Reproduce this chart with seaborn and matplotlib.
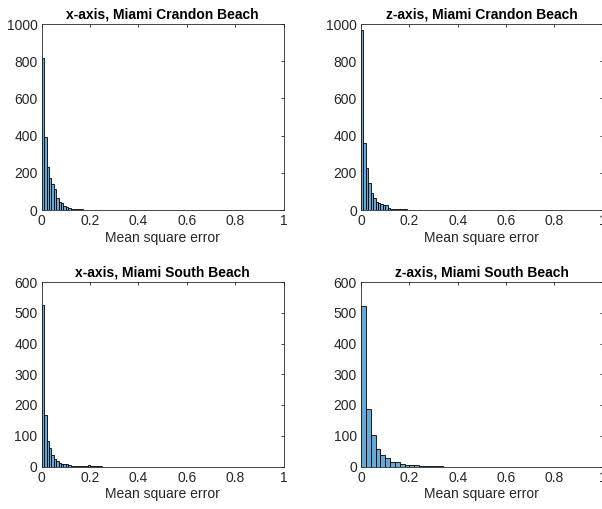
import numpy as np
import pandas as pd
import matplotlib
matplotlib.use("Agg")
import matplotlib.pyplot as plt
import seaborn as sns

# ---- data (histogram counts) ----
titles = ["x-axis, Miami Crandon Beach", "z-axis, Miami Crandon Beach",
          "x-axis, Miami South Beach", "z-axis, Miami South Beach"]
binwidths = [0.01, 0.01, 0.01, 0.02]
counts_x_crandon = [819, 395, 230, 170, 140, 112, 62, 41, 40, 22, 14, 9, 6, 5, 4, 3,
                    3, 2, 2, 2, 1, 1, 1, 1, 1, 1, 1, 1, 0, 1]
counts_z_crandon = [968, 362, 228, 145, 92, 62, 42, 40, 33, 27, 26, 12, 8, 6, 5, 4,
                    4, 3, 3, 2, 2, 2, 1, 2, 1, 1, 1, 1, 1, 1, 1, 1, 1, 1, 0, 1]
counts_x_south = [524, 168, 83, 60, 36, 26, 17, 12, 9, 7, 8, 4, 3, 3, 2, 2, 2, 2,
                  3, 5, 2, 1, 1, 1, 1]
counts_z_south = [522, 186, 101, 58, 37, 27, 14, 14, 7, 5, 4, 4, 3, 2, 2, 2, 1]
all_counts = [counts_x_crandon, counts_z_crandon, counts_x_south, counts_z_south]
ylims = [1000, 1000, 600, 600]
yticks_top = [0, 200, 400, 600, 800, 1000]
yticks_bottom = [0, 100, 200, 300, 400, 500, 600]
xticks = [0, 0.2, 0.4, 0.6, 0.8, 1]
xlabel = "Mean square error"

sns.set_style("white")
plt.rcParams['font.family'] = ['Liberation Sans', 'DejaVu Sans']

W, H = 602, 509
fig = plt.figure(figsize=(W / 100, H / 100), dpi=100)

# axes boxes in pixels: (left, top, right, bottom)
boxes = [(41.7, 24, 283.5, 210), (361, 24, 602.8, 210),
         (41.7, 282, 283.5, 466.5), (361, 282, 602.8, 466.5)]

face = (0.4, 0.668, 0.845)
axcol = (0.15, 0.15, 0.15)

for i in range(4):
    l, t, r, b = boxes[i]
    ax = fig.add_axes([l / W, 1 - b / H, (r - l) / W, (b - t) / H])
    cnts = [float(c) for c in all_counts[i]]
    bw = binwidths[i]
    edges = [k * bw for k in range(len(cnts) + 1)]
    centers = [e + bw / 2 for e in edges[:-1]]
    df = pd.DataFrame({"mse": centers, "n": cnts})
    sns.histplot(data=df, x="mse", weights="n", bins=edges, ax=ax,
                 color=face, alpha=1.0, edgecolor="black", linewidth=0.6)
    ax.set_xlim(0, 1)
    ax.set_ylim(0, ylims[i])
    ax.set_xticks(xticks)
    ax.set_xticklabels(["0", "0.2", "0.4", "0.6", "0.8", "1"])
    yt = yticks_top if i < 2 else yticks_bottom
    ax.set_yticks(yt)
    ax.set_yticklabels([str(v) for v in yt])
    ax.set_ylabel("")
    ax.set_xlabel(xlabel, fontsize=10, color=axcol, labelpad=2)
    ax.set_title(titles[i], fontsize=10, fontweight="bold", pad=4, color="black")
    for s in ax.spines.values():
        s.set_visible(True)
        s.set_color(axcol)
        s.set_linewidth(0.6)
    ax.tick_params(direction="in", length=2.5, width=0.6, colors=axcol,
                   labelsize=10, top=True, right=True, pad=3,
                   labelcolor=axcol)

fig.savefig("out.png", dpi=100)
